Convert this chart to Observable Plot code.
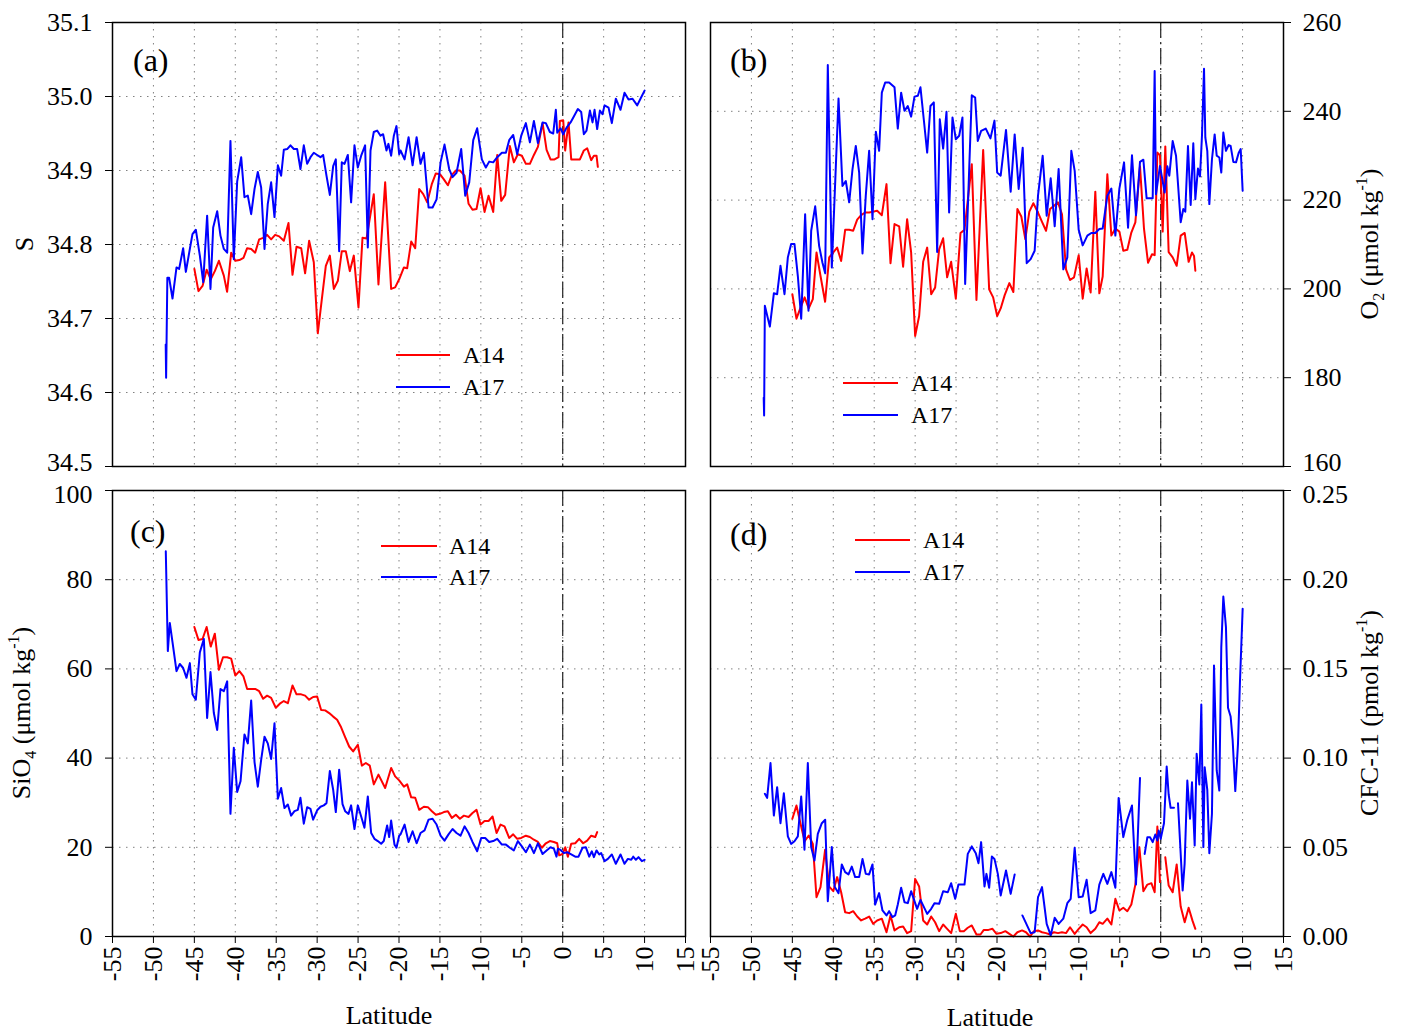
<!DOCTYPE html>
<html><head><meta charset="utf-8">
<script src="https://cdn.jsdelivr.net/npm/d3@7"></script>
<script src="https://cdn.jsdelivr.net/npm/@observablehq/plot@0.6"></script>
<style>
body{margin:0;background:#fff;}
#chart{position:relative;width:1402px;height:1035px;font-family:'Liberation Serif',serif;}
#chart svg{position:absolute;}
</style></head><body><div id="chart"></div>
<script>
// ---------- tick labels ----------
const xTicks = [-55,-50,-45,-40,-35,-30,-25,-20,-15,-10,-5,0,5,10,15];
const sTicks = [34.5,34.6,34.7,34.8,34.9,35.0,35.1];
const o2Ticks = [160,180,200,220,240,260];
const siTicks = [0,20,40,60,80,100];
const cfcTicks = [0,0.05,0.10,0.15,0.20,0.25];
const seriesNames = ["A14","A17"];

// ---------- (a) salinity [latitude, S] ----------
const S_A14 = [[-45.0,34.767],[-44.5,34.737],[-44.0,34.744],[-43.5,34.766],[-43.0,34.753],[-42.5,34.764],[-42.0,34.778],[-41.4,34.758],[-41.0,34.736],[-40.5,34.789],[-40.0,34.778],[-39.5,34.779],[-39.0,34.782],[-38.55,34.795],[-38.06,34.794],[-37.57,34.789],[-37.08,34.807],[-36.6,34.809],[-36.11,34.813],[-35.62,34.807],[-35.13,34.813],[-34.64,34.811],[-34.07,34.805],[-33.5,34.829],[-33.01,34.759],[-32.52,34.797],[-31.95,34.795],[-31.47,34.761],[-30.98,34.805],[-30.41,34.776],[-29.92,34.68],[-29.43,34.726],[-28.94,34.771],[-28.45,34.785],[-27.96,34.74],[-27.47,34.751],[-26.99,34.791],[-26.5,34.791],[-26.01,34.764],[-25.52,34.785],[-24.95,34.715],[-24.46,34.809],[-23.97,34.808],[-23.08,34.868],[-22.51,34.746],[-21.69,34.884],[-20.96,34.74],[-20.47,34.742],[-19.98,34.753],[-19.4,34.769],[-19.0,34.768],[-18.51,34.804],[-18.02,34.795],[-17.53,34.875],[-17.04,34.868],[-16.55,34.857],[-15.98,34.882],[-15.5,34.896],[-15.0,34.895],[-14.52,34.888],[-14.03,34.88],[-13.54,34.894],[-13.05,34.9],[-12.56,34.9],[-11.99,34.893],[-11.5,34.855],[-11.02,34.847],[-10.53,34.848],[-10.04,34.876],[-9.55,34.844],[-9.06,34.866],[-8.49,34.844],[-8.0,34.921],[-7.51,34.859],[-7.03,34.867],[-6.46,34.933],[-5.97,34.911],[-5.48,34.922],[-4.99,34.92],[-4.5,34.909],[-4.01,34.909],[-3.52,34.921],[-3.03,34.932],[-2.46,34.964],[-1.97,34.928],[-1.49,34.915],[-1.0,34.915],[-0.51,34.918],[-0.35,34.967],[0.06,34.968],[0.3,34.927],[0.71,34.965],[1.04,34.915],[1.53,34.915],[2.1,34.915],[2.58,34.927],[2.99,34.93],[3.48,34.914],[3.81,34.92],[4.13,34.92],[4.29,34.905]];
const S_A17 = [[-48.5,34.665],[-48.45,34.62],[-48.3,34.755],[-48.08,34.755],[-47.67,34.727],[-47.18,34.769],[-46.86,34.767],[-46.37,34.795],[-46.04,34.763],[-45.55,34.794],[-45.23,34.814],[-44.82,34.82],[-44.33,34.785],[-43.92,34.749],[-43.44,34.839],[-43.03,34.74],[-42.7,34.823],[-42.21,34.845],[-41.81,34.812],[-41.4,34.794],[-40.99,34.789],[-40.59,34.94],[-40.18,34.78],[-39.77,34.885],[-39.28,34.918],[-38.88,34.864],[-38.47,34.866],[-38.06,34.841],[-37.65,34.875],[-37.25,34.898],[-36.84,34.877],[-36.43,34.794],[-36.03,34.855],[-35.62,34.884],[-35.21,34.837],[-34.8,34.907],[-34.4,34.893],[-34.07,34.928],[-33.66,34.929],[-33.26,34.934],[-32.85,34.929],[-32.44,34.929],[-32.04,34.902],[-31.63,34.934],[-31.22,34.909],[-30.81,34.918],[-30.41,34.924],[-30.0,34.921],[-29.59,34.918],[-29.27,34.921],[-28.86,34.893],[-28.45,34.867],[-28.04,34.906],[-27.72,34.915],[-27.31,34.791],[-26.99,34.911],[-26.66,34.909],[-26.25,34.921],[-25.85,34.857],[-25.44,34.934],[-25.03,34.904],[-24.62,34.92],[-24.14,34.934],[-23.81,34.796],[-23.48,34.927],[-23.08,34.952],[-22.67,34.954],[-22.26,34.947],[-21.94,34.949],[-21.53,34.927],[-21.29,34.936],[-20.96,34.92],[-20.63,34.947],[-20.31,34.96],[-19.98,34.922],[-19.81,34.927],[-19.32,34.915],[-18.83,34.945],[-18.34,34.907],[-17.85,34.945],[-17.37,34.909],[-16.96,34.924],[-16.39,34.85],[-15.9,34.85],[-15.41,34.861],[-14.92,34.911],[-14.44,34.935],[-13.87,34.902],[-13.46,34.891],[-12.97,34.897],[-12.4,34.929],[-11.91,34.866],[-11.42,34.884],[-10.93,34.941],[-10.45,34.957],[-9.88,34.915],[-9.39,34.904],[-8.98,34.912],[-8.49,34.911],[-8.0,34.918],[-7.43,34.924],[-6.94,34.924],[-6.54,34.941],[-6.05,34.948],[-5.56,34.922],[-5.07,34.947],[-4.5,34.964],[-4.01,34.938],[-3.52,34.967],[-3.03,34.937],[-2.46,34.965],[-2.06,34.964],[-1.57,34.952],[-1.16,34.95],[-0.84,34.982],[-0.67,34.951],[-0.26,34.957],[0.06,34.949],[0.47,34.958],[0.96,34.965],[1.36,34.973],[1.85,34.983],[2.26,34.979],[2.58,34.949],[2.91,34.954],[3.32,34.981],[3.64,34.965],[3.89,34.982],[4.21,34.956],[4.54,34.981],[4.86,34.976],[5.11,34.988],[5.6,34.985],[6.0,34.964],[6.49,34.997],[7.06,34.982],[7.55,35.005],[8.04,34.996],[8.53,34.997],[9.1,34.988],[9.59,34.999],[10.0,35.008]];

// ---------- (b) oxygen [latitude, O2] ----------
const O2_A14 = [[-45.0,198.8],[-44.5,193.3],[-44.0,195.8],[-43.5,198.1],[-43.0,195.6],[-42.5,197.7],[-42.05,208.2],[-41.56,202.9],[-41.0,197.1],[-40.5,207.1],[-40.0,208.2],[-39.53,209.3],[-39.04,206.3],[-38.55,213.3],[-38.06,213.3],[-37.57,213.1],[-37.08,215.6],[-36.6,216.6],[-36.11,217.2],[-35.62,217.2],[-35.13,217.4],[-34.64,217.6],[-34.07,216.6],[-33.5,223.6],[-33.01,205.8],[-32.52,214.6],[-31.95,214.1],[-31.47,205.0],[-30.98,215.7],[-30.49,208.2],[-30.0,189.4],[-29.51,193.9],[-29.02,206.1],[-28.53,209.3],[-28.04,198.8],[-27.56,200.3],[-27.07,208.9],[-26.58,211.4],[-26.09,202.6],[-25.6,206.1],[-25.03,197.8],[-24.46,212.6],[-23.97,213.3],[-23.08,228.1],[-22.51,197.5],[-21.69,231.3],[-20.96,199.9],[-20.47,198.1],[-19.98,193.9],[-19.55,195.6],[-19.06,198.6],[-18.49,201.3],[-18.0,199.3],[-17.51,218.0],[-17.03,216.3],[-16.54,211.2],[-16.05,217.4],[-15.56,219.3],[-14.99,217.2],[-14.5,215.1],[-14.01,213.1],[-13.52,218.0],[-13.04,218.7],[-12.55,219.5],[-12.06,216.8],[-11.57,204.4],[-11.08,202.0],[-10.59,202.6],[-10.02,207.6],[-9.53,197.8],[-9.05,204.6],[-8.56,199.2],[-7.99,221.9],[-7.5,199.0],[-7.09,202.8],[-6.52,225.8],[-6.03,212.0],[-5.54,213.6],[-5.05,212.9],[-4.57,208.6],[-4.08,208.8],[-3.59,212.7],[-3.1,215.0],[-2.53,227.6],[-2.04,213.5],[-1.55,205.9],[-1.06,207.8],[-0.74,207.6],[-0.41,230.7],[-0.09,230.1],[0.24,212.9],[0.56,232.1],[0.97,208.3],[1.46,207.1],[1.95,205.2],[2.44,212.0],[2.93,212.6],[3.41,206.1],[3.82,208.2],[4.07,207.4],[4.23,204.1]];
const O2_A17 = [[-48.5,175.5],[-48.45,171.5],[-48.36,196.2],[-47.75,191.5],[-47.26,199.0],[-46.86,198.8],[-46.45,205.2],[-45.96,198.8],[-45.55,207.1],[-45.15,210.1],[-44.74,210.1],[-44.33,202.9],[-43.92,193.3],[-43.44,216.8],[-43.03,195.1],[-42.7,213.1],[-42.21,218.6],[-41.73,209.7],[-41.32,205.9],[-40.99,203.5],[-40.67,250.4],[-40.18,204.8],[-39.36,242.9],[-38.88,223.2],[-38.47,224.3],[-38.06,219.5],[-37.65,227.0],[-37.25,232.2],[-36.84,226.2],[-36.43,208.0],[-36.03,221.0],[-35.62,231.1],[-35.21,215.7],[-34.8,235.4],[-34.4,231.1],[-34.07,244.2],[-33.66,246.5],[-33.18,246.5],[-32.52,245.4],[-32.12,236.1],[-31.71,244.2],[-31.3,240.1],[-30.9,241.2],[-30.49,238.8],[-30.08,243.3],[-29.67,243.5],[-29.35,245.4],[-28.94,238.1],[-28.53,230.7],[-28.13,241.2],[-27.72,242.0],[-27.31,208.3],[-26.99,238.2],[-26.58,231.6],[-26.17,239.9],[-25.85,217.2],[-25.44,238.6],[-25.03,233.7],[-24.62,234.5],[-24.22,238.6],[-23.89,201.1],[-23.08,243.6],[-22.67,243.1],[-22.35,233.3],[-21.94,235.6],[-21.37,236.1],[-20.8,233.9],[-20.31,237.9],[-19.98,226.2],[-19.55,225.5],[-18.9,235.8],[-18.33,221.9],[-17.84,234.8],[-17.35,222.5],[-16.86,231.8],[-16.37,205.8],[-15.89,206.7],[-15.4,208.6],[-14.99,221.0],[-14.42,230.0],[-13.93,216.5],[-13.44,224.9],[-12.95,214.1],[-12.47,227.0],[-11.9,204.4],[-11.41,207.1],[-10.92,231.1],[-10.51,226.6],[-10.02,213.3],[-9.53,209.8],[-8.96,212.0],[-8.48,212.6],[-7.99,212.6],[-7.5,213.5],[-7.09,213.6],[-6.52,221.0],[-6.03,222.6],[-5.54,212.0],[-5.05,222.6],[-4.48,228.5],[-3.99,213.8],[-3.51,230.1],[-3.02,216.6],[-2.53,228.6],[-2.12,229.1],[-1.72,220.4],[-0.98,220.4],[-0.74,249.1],[-0.58,221.3],[-0.09,227.7],[0.48,221.7],[0.81,227.6],[1.05,225.5],[1.46,233.3],[1.87,230.0],[2.44,215.0],[2.76,218.0],[3.0,217.4],[3.33,232.2],[3.66,218.9],[3.98,232.8],[4.23,220.2],[4.55,227.1],[4.8,225.3],[5.04,234.5],[5.29,249.6],[5.45,234.1],[5.69,231.1],[5.94,219.1],[6.26,229.2],[6.59,234.8],[6.84,230.0],[7.16,229.6],[7.4,226.2],[7.65,235.2],[7.97,231.1],[8.3,232.4],[8.54,232.2],[8.87,228.6],[9.2,228.5],[9.52,230.6],[9.77,231.5],[10.01,222.1]];

// ---------- (c) silicate [latitude, SiO4] ----------
const Si_A14 = [[-45.0,69.4],[-44.5,66.5],[-44.0,66.7],[-43.5,69.4],[-43.0,65.0],[-42.5,67.9],[-42.0,59.8],[-41.5,62.6],[-41.0,62.6],[-40.5,62.3],[-40.0,58.5],[-39.5,59.5],[-39.0,58.3],[-38.55,55.5],[-38.06,55.5],[-37.57,55.5],[-37.08,55.0],[-36.6,53.3],[-36.11,54.0],[-35.62,53.5],[-35.05,51.3],[-34.56,52.2],[-34.07,52.8],[-33.58,52.3],[-33.01,56.3],[-32.52,54.3],[-31.95,54.3],[-31.47,54.0],[-30.98,53.1],[-30.49,53.7],[-30.0,53.8],[-29.51,50.8],[-29.02,50.7],[-28.53,50.1],[-28.04,49.3],[-27.56,48.6],[-27.07,46.9],[-26.58,44.7],[-26.09,42.6],[-25.6,41.5],[-25.03,43.0],[-24.54,38.3],[-24.05,38.9],[-23.57,38.3],[-23.08,34.1],[-22.51,36.3],[-21.69,33.3],[-20.96,37.8],[-20.47,35.9],[-19.98,35.0],[-19.4,33.6],[-19.0,34.1],[-18.51,31.2],[-18.02,31.1],[-17.53,28.4],[-16.96,29.1],[-16.47,29.0],[-15.98,28.1],[-15.5,27.3],[-15.0,27.5],[-14.52,27.9],[-14.03,28.1],[-13.54,26.6],[-13.05,27.3],[-12.56,26.4],[-12.07,27.1],[-11.5,26.8],[-11.02,27.7],[-10.53,28.4],[-10.04,25.1],[-9.55,25.9],[-9.06,25.9],[-8.57,26.9],[-8.08,23.2],[-7.6,25.1],[-7.11,24.7],[-6.54,22.1],[-6.05,22.9],[-5.56,21.9],[-5.07,22.1],[-4.5,22.6],[-4.01,22.3],[-3.52,21.7],[-3.03,21.2],[-2.54,19.9],[-2.06,20.9],[-1.57,21.4],[-1.08,21.2],[-0.67,20.9],[-0.43,18.2],[-0.02,18.5],[0.31,20.0],[0.63,17.9],[1.04,20.8],[1.53,20.9],[2.01,21.9],[2.5,20.9],[2.99,21.5],[3.48,22.6],[3.97,22.3],[4.21,23.4]];
const Si_A17 = [[-48.49,86.4],[-48.24,64.0],[-48.0,70.3],[-47.67,66.0],[-47.18,59.5],[-46.78,61.1],[-46.37,60.2],[-45.96,58.0],[-45.55,61.3],[-45.23,54.3],[-44.82,53.1],[-44.33,63.7],[-43.84,66.7],[-43.44,49.0],[-43.03,59.3],[-42.62,50.1],[-42.21,46.3],[-41.81,55.5],[-41.4,55.0],[-40.99,57.2],[-40.59,27.5],[-40.18,42.3],[-39.77,32.4],[-39.36,34.8],[-38.88,45.3],[-38.47,43.3],[-38.06,52.9],[-37.65,39.1],[-37.25,33.6],[-36.84,39.6],[-36.43,44.8],[-36.03,43.3],[-35.62,39.8],[-35.21,47.8],[-34.8,30.9],[-34.4,33.3],[-33.99,28.8],[-33.58,29.6],[-33.18,27.1],[-32.77,28.1],[-32.36,28.4],[-32.04,31.1],[-31.63,25.3],[-31.22,29.0],[-30.81,28.6],[-30.49,26.2],[-30.0,28.3],[-29.59,29.1],[-29.19,29.4],[-28.86,29.9],[-28.45,37.1],[-28.04,32.9],[-27.72,27.9],[-27.31,37.4],[-26.9,29.7],[-26.58,28.1],[-26.17,27.5],[-25.85,29.4],[-25.44,24.1],[-25.03,29.4],[-24.62,26.9],[-24.22,24.4],[-23.81,31.4],[-23.4,23.2],[-23.0,21.9],[-22.59,21.4],[-22.18,20.8],[-21.86,21.4],[-21.45,24.9],[-21.2,22.3],[-20.96,26.0],[-20.55,20.6],[-20.31,19.9],[-19.98,22.6],[-19.81,22.9],[-19.32,25.1],[-18.83,21.2],[-18.34,23.6],[-17.85,20.9],[-17.37,23.2],[-16.88,23.8],[-16.39,26.2],[-15.9,26.4],[-15.41,25.1],[-14.92,22.6],[-14.44,21.5],[-13.95,22.9],[-13.46,24.1],[-12.97,23.2],[-12.48,22.6],[-11.99,24.7],[-11.5,23.2],[-11.02,21.2],[-10.45,19.1],[-9.96,22.1],[-9.47,22.1],[-8.98,21.2],[-8.49,21.4],[-8.0,21.9],[-7.43,20.6],[-6.94,20.6],[-6.46,19.9],[-5.97,19.3],[-5.48,21.4],[-4.99,20.2],[-4.5,18.9],[-4.01,20.6],[-3.52,18.7],[-3.03,20.9],[-2.46,18.5],[-1.97,19.3],[-1.49,20.0],[-1.08,19.7],[-0.76,17.9],[-0.59,19.7],[-0.26,19.4],[0.14,18.7],[0.55,18.9],[1.04,18.4],[1.53,17.9],[1.93,17.9],[2.42,19.9],[2.83,20.0],[3.24,17.9],[3.56,19.1],[3.81,17.8],[4.13,19.3],[4.46,18.4],[4.7,18.7],[5.11,16.9],[5.52,17.4],[6.0,18.4],[6.49,16.3],[7.06,18.4],[7.55,16.3],[7.96,17.4],[8.37,17.2],[8.61,17.9],[8.94,17.2],[9.26,17.8],[9.67,16.9],[10.0,17.2]];

// ---------- (d) CFC-11 [latitude, CFC-11]; null = gap ----------
const CFC_A14 = [[-45.0,0.066],[-44.5,0.0734],[-44.0,0.0632],[-43.5,0.0534],[-43.0,0.0566],[-42.5,0.0519],[-42.05,0.022],[-41.56,0.0277],[-41.0,0.0486],[-40.5,0.028],[-40.0,0.0254],[-39.53,0.0333],[-39.04,0.0248],[-38.55,0.0136],[-38.06,0.0131],[-37.57,0.0142],[-37.08,0.0112],[-36.6,0.009],[-36.11,0.01],[-35.62,0.0112],[-35.13,0.0071],[-34.64,0.009],[-34.07,0.01],[-33.5,0.0024],[-33.01,0.0118],[-32.52,0.0034],[-31.95,0.0052],[-31.47,0.0056],[-30.98,0.0019],[-30.49,0.003],[-30.0,0.0323],[-29.51,0.028],[-29.02,0.009],[-28.53,0.0067],[-28.04,0.0112],[-27.56,0.008],[-27.07,0.003],[-26.58,0.0067],[-26.09,0.0043],[-25.6,0.0019],[-25.03,0.0127],[-24.54,0.003],[-24.05,0.003],[-23.57,0.0049],[-23.08,0.0062],[-22.51,0.0011],[-22.02,0.0011],[-21.61,0.0037],[-21.04,0.0037],[-20.55,0.0043],[-20.06,0.0015],[-19.55,0.0019],[-18.98,0.003],[-18.49,0.0015],[-18.0,0.0],[-17.51,0.0024],[-16.94,0.0034],[-16.46,0.0024],[-15.97,0.0],[-15.48,0.003],[-14.99,0.0034],[-14.5,0.0024],[-14.01,0.0019],[-13.52,0.0011],[-13.04,0.0024],[-12.55,0.0019],[-12.06,0.0024],[-11.57,0.0019],[-11.08,0.0052],[-10.51,0.0015],[-10.02,0.0043],[-9.53,0.0067],[-9.05,0.0052],[-8.56,0.0019],[-7.99,0.0043],[-7.5,0.008],[-7.09,0.0071],[-6.52,0.01],[-6.03,0.0067],[-5.54,0.0211],[-5.05,0.0146],[-4.57,0.0161],[-4.08,0.0142],[-3.59,0.0179],[-3.1,0.0291],[-2.61,0.0501],[-2.12,0.0254],[-1.63,0.0291],[-1.14,0.0299],[-0.74,0.0248],[-0.41,0.0617],[-0.09,0.0305],[0.2,null],[0.56,0.0444],[0.97,0.0286],[1.46,0.0248],[1.95,0.0404],[2.44,0.0168],[2.93,0.008],[3.41,0.0161],[3.9,0.0086],[4.23,0.0043]];
const CFC_A17 = [[-48.36,0.08],[-48.08,0.0777],[-47.67,0.0972],[-47.26,0.0678],[-46.86,0.0837],[-46.45,0.0635],[-46.04,0.0803],[-45.55,0.0561],[-45.15,0.0519],[-44.74,0.0534],[-44.33,0.0561],[-43.92,0.0785],[-43.52,0.0486],[-43.11,0.0972],[-42.7,0.0501],[-42.3,0.0426],[-41.89,0.0575],[-41.4,0.0635],[-40.99,0.0654],[-40.67,0.0198],[-40.18,0.0501],[-39.85,0.028],[-39.36,0.0243],[-38.96,0.0404],[-38.55,0.0361],[-38.14,0.0348],[-37.74,0.0392],[-37.33,0.0333],[-36.84,0.0333],[-36.43,0.0435],[-36.03,0.0351],[-35.62,0.0348],[-35.21,0.0404],[-34.89,0.0179],[-34.4,0.0243],[-33.99,0.0146],[-33.5,0.0118],[-33.18,0.0142],[-32.77,0.0109],[-32.44,0.0118],[-32.12,0.0179],[-31.71,0.0273],[-31.3,0.0192],[-30.9,0.0187],[-30.49,0.0254],[-29.76,0.0155],[-29.35,0.0205],[-28.53,0.0127],[-28.04,0.0155],[-27.64,0.0187],[-27.07,0.0183],[-26.58,0.0254],[-26.01,0.0248],[-25.6,0.0299],[-25.11,0.0211],[-24.71,0.0291],[-23.97,0.0291],[-23.57,0.0463],[-23.08,0.0505],[-22.59,0.0467],[-22.26,0.0411],[-21.94,0.0529],[-21.53,0.028],[-21.29,0.0351],[-20.96,0.0273],[-20.63,0.0448],[-20.31,0.0435],[-19.9,0.0351],[-19.55,0.023],[-18.9,0.037],[-18.33,0.0239],[-17.84,0.0348],[-17.4,null],[-16.9,0.0118],[-15.89,0.0019],[-15.4,0.0024],[-14.99,0.022],[-14.5,0.0277],[-13.93,0.0071],[-13.44,0.0006],[-12.95,0.0105],[-12.47,0.0071],[-11.9,0.01],[-11.41,0.0187],[-11.0,0.0211],[-10.51,0.0497],[-10.02,0.022],[-9.53,0.0224],[-9.05,0.0318],[-8.56,0.0131],[-7.99,0.0146],[-7.5,0.0291],[-7.01,0.0351],[-6.52,0.0295],[-6.03,0.0361],[-5.54,0.0273],[-5.14,0.0777],[-4.57,0.0557],[-4.08,0.0654],[-3.51,0.0734],[-3.02,0.0291],[-2.53,0.0889],[-2.2,null],[-1.96,0.0463],[-1.63,0.0557],[-1.31,0.0557],[-0.98,0.0529],[-0.66,0.0572],[-0.41,0.0538],[-0.25,0.0594],[0.0,0.0547],[0.4,0.0635],[0.73,0.0953],[0.97,0.0796],[1.21,0.0721],[1.62,0.0721],[1.85,null],[2.11,0.0747],[2.68,0.0258],[2.92,0.0407],[3.25,0.0874],[3.58,0.066],[3.82,0.0865],[4.15,0.051],[4.39,0.1024],[4.72,0.0852],[4.96,0.13],[5.21,0.0501],[5.37,0.0949],[5.69,0.0822],[5.94,0.0467],[6.26,0.0688],[6.51,0.1519],[6.84,0.0931],[7.16,0.0818],[7.4,0.1622],[7.65,0.1906],[7.97,0.1734],[8.22,0.1282],[8.54,0.1233],[8.79,0.1099],[9.11,0.0815],[9.44,0.108],[9.68,0.1426],[10.01,0.1837]];

// ---------- build ----------
const FONT = "'Liberation Serif','Times New Roman',serif";
const RED = "#ff0000", BLUE = "#0000ff";
const rows = arr => arr.map(([lat, v]) => ({lat, v}));
const chart = document.getElementById("chart");

function panel(o) {
  const pad = o.yAnchor === "left" ? 13 : 12;
  const inner = o.yTicks.filter(t => t !== o.edgeTick);
  const marks = [
    Plot.gridX(xTicks, {stroke:"#808080", strokeOpacity:1, strokeWidth:1, strokeDasharray:"1.5,5.5"}),
    Plot.gridY(o.yTicks, {stroke:"#808080", strokeOpacity:1, strokeWidth:1, strokeDasharray:"1.5,5.5"}),
    Plot.ruleX([0], {stroke:"#222", strokeWidth:1.2, strokeDasharray:"16,4,2,4"}),
    Plot.line(rows(o.a14), {x:"lat", y:"v", stroke:RED, strokeWidth:2}),
    Plot.line(rows(o.a17), {x:"lat", y:"v", stroke:BLUE, strokeWidth:2}),
    Plot.frame({stroke:"#000", strokeWidth:1.5}),
    // all tick marks
    Plot.axisY(o.yTicks, {anchor:o.yAnchor, tickSize:7, text:null, label:null}),
    // labels (the one at the shared panel edge nudged away from its neighbour)
    Plot.axisY(inner, {anchor:o.yAnchor, tickSize:0, tickPadding:pad + 7, tickFormat:o.yFmt, label:null, fontSize:26}),
    Plot.axisY([o.edgeTick], {anchor:o.yAnchor, tickSize:0, tickPadding:pad + 7, tickFormat:o.yFmt, label:null, fontSize:26, dy:o.edgeDy})
  ];
  if (o.showX) marks.push(Plot.axisX(xTicks, {anchor:"bottom", tickSize:7, tickPadding:3, tickRotate:-90,
      tickFormat:d => String(d), label:null, fontSize:26}));
  const svg = Plot.plot({
    width:o.width, height:o.height,
    marginLeft:o.mL, marginRight:o.mR, marginTop:o.mT, marginBottom:o.mB,
    x:{domain:[-55,15], axis:o.showX ? undefined : null},
    y:{domain:o.yDomain},
    style:{fontFamily:FONT, fontSize:"26px", color:"#000", background:"transparent", overflow:"visible"},
    marks
  });
  svg.style.left = o.left + "px";
  svg.style.top = o.top + "px";
  chart.appendChild(svg);
}

panel({left:0, top:0, width:700, height:480, mL:112, mR:15, mT:22, mB:14,
  yDomain:[34.5,35.1], yTicks:sTicks, edgeTick:34.5, edgeDy:-4, yFmt:d => d.toFixed(1), yAnchor:"left", showX:false, a14:S_A14, a17:S_A17});
panel({left:700, top:0, width:702, height:480, mL:10, mR:119, mT:22, mB:14,
  yDomain:[160,260], yTicks:o2Ticks, edgeTick:160, edgeDy:-4, yFmt:d => String(d), yAnchor:"right", showX:false, a14:O2_A14, a17:O2_A17});
panel({left:0, top:478, width:700, height:557, mL:112, mR:15, mT:12, mB:99,
  yDomain:[0,100], yTicks:siTicks, edgeTick:100, edgeDy:4, yFmt:d => String(d), yAnchor:"left", showX:true, a14:Si_A14, a17:Si_A17});
panel({left:700, top:478, width:702, height:557, mL:10, mR:119, mT:12, mB:99,
  yDomain:[0,0.25], yTicks:cfcTicks, edgeTick:0.25, edgeDy:4, yFmt:d => d.toFixed(2), yAnchor:"right", showX:true, a14:CFC_A14, a17:CFC_A17});

// ---------- overlay: panel letters, legends, axis titles ----------
const ov = d3.select(chart).append("svg")
  .attr("width", 1402).attr("height", 1035)
  .style("left", "0px").style("top", "0px")
  .style("pointer-events", "none")
  .attr("font-family", FONT).attr("fill", "#000");

[["(a)",133,71],["(b)",730,71],["(c)",130,542],["(d)",730,545]].forEach(([t,x,y]) =>
  ov.append("text").attr("x", x).attr("y", y).attr("font-size", 32).text(t));

[[396,450,355,387,463],[843,898,383,415,911],[381,437,546,577,449],[855,910,540,572,923]].forEach(([x1,x2,y1,y2,tx]) => {
  [[y1,RED,seriesNames[0]],[y2,BLUE,seriesNames[1]]].forEach(([y,c,n]) => {
    ov.append("line").attr("x1", x1).attr("x2", x2).attr("y1", y).attr("y2", y).attr("stroke", c).attr("stroke-width", 2);
    ov.append("text").attr("x", tx).attr("y", y + 8).attr("font-size", 24).text(n);
  });
});

function vtitle(x, y, parts) {
  const t = ov.append("text").attr("transform", `translate(${x},${y}) rotate(-90)`)
    .attr("text-anchor", "middle").attr("font-size", 26);
  parts.forEach(([s, kind]) => {
    const ts = t.append("tspan").text(s);
    if (kind === "sub") ts.attr("font-size", 16).attr("dy", 6);
    else if (kind === "sup") ts.attr("font-size", 16).attr("dy", -11);
    else if (kind === "afterSub") ts.attr("dy", -6);
    else if (kind === "afterSup") ts.attr("dy", 11);
  });
}
vtitle(33, 244, [["S"]]);
vtitle(1378, 244, [["O"],["2","sub"],[" (μmol kg","afterSub"],["-1","sup"],[")","afterSup"]]);
vtitle(30, 713, [["SiO"],["4","sub"],["  (μmol kg","afterSub"],["-1","sup"],[")","afterSup"]]);
vtitle(1378, 713, [["CFC-11 (pmol kg"],["-1","sup"],[")","afterSup"]]);

ov.append("text").attr("x", 389).attr("y", 1024).attr("text-anchor", "middle").attr("font-size", 26).text("Latitude");
ov.append("text").attr("x", 990).attr("y", 1026).attr("text-anchor", "middle").attr("font-size", 26).text("Latitude");
</script></body></html>
